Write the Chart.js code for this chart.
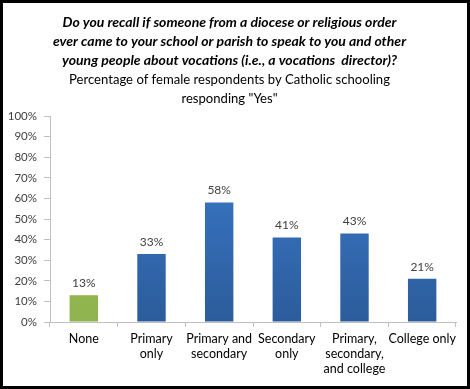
<!DOCTYPE html>
<html><head><meta charset="utf-8">
<script src="https://cdn.jsdelivr.net/npm/chart.js@4"></script>
<style>
html,body{margin:0;padding:0;background:#fff;}
#wrap{width:470px;height:389px;box-sizing:border-box;border:3px solid #000;position:relative;}
#c{display:block;}
</style></head>
<body><div id="wrap"><canvas id="c" width="464" height="383"></canvas></div>
<script>
const categories = [["None"],["Primary","only"],["Primary and","secondary"],["Secondary","only"],["Primary,","secondary,","and college"],["College only"]];
const values = [13, 33, 58, 41, 43, 21];
const valueLabels = ["13%","33%","58%","41%","43%","21%"];
const titleLines = ["Do you recall if someone from a diocese or religious order","ever came to your school or parish to speak to you and other","young people about vocations (i.e., a vocations  director)?"];
const subtitleLines = ["Percentage of female respondents by Catholic schooling","responding \"Yes\""];

function barColor(ctx){
  const chart = ctx.chart; const a = chart.chartArea;
  if(!a) return '#3a70b8';
  const green = ctx.dataIndex === 0;
  const g = chart.ctx.createLinearGradient(0, a.top, 0, a.bottom);
  if(green){ g.addColorStop(0,'#9bc25a'); g.addColorStop(1,'#8fb34e'); }
  else { g.addColorStop(0,'#3d7fd2'); g.addColorStop(1,'#2c5c9b'); }
  return g;
}

const labelPlugin = {
  id:'vlabels',
  afterDatasetsDraw(chart){
    const c = chart.ctx; const meta = chart.getDatasetMeta(0);
    c.save(); c.font = '12px Lato'; c.fillStyle = '#404040'; c.textAlign='center'; c.textBaseline='bottom';
    meta.data.forEach((el,i)=>{ c.fillText(valueLabels[i], el.x, el.y - 6); });
    c.restore();
  }
};

new Chart(document.getElementById('c'), {
  type:'bar',
  data:{ labels: categories, datasets:[{ data: values, backgroundColor: barColor, barPercentage:0.42, categoryPercentage:1 }]},
  plugins:[labelPlugin],
  options:{
    responsive:false, animation:false,
    layout:{ padding:{ left:0, right:11, top:0, bottom:6 } },
    plugins:{
      legend:{display:false}, tooltip:{enabled:false},
      title:{ display:true, text:titleLines, color:'#000', font:{family:'Lato', size:14, weight:'bold', style:'italic', lineHeight:'19px'}, padding:{top:10,bottom:0} },
      subtitle:{ display:true, text:subtitleLines, color:'#000', font:{family:'Lato', size:13.1, lineHeight:'19px'}, padding:{top:0,bottom:8} }
    },
    scales:{
      y:{ min:0, max:100, ticks:{ stepSize:10, callback:v=>v+'%', color:'#404040', font:{family:'Lato',size:11.5}, padding:7 },
          grid:{ drawOnChartArea:false, drawTicks:true, tickLength:6, color:'#bfbfbf' }, border:{ color:'#bfbfbf' },
          afterFit(s){ s.width = 47; } },
      x:{ ticks:{ color:'#000', font:{family:'Lato',size:12.5}, maxRotation:0, autoSkip:false, padding:4 },
          grid:{ offset:true, drawOnChartArea:false, drawTicks:true, tickLength:5, color:'#bfbfbf' }, border:{ color:'#bfbfbf' } }
    }
  }
});
</script></body></html>
